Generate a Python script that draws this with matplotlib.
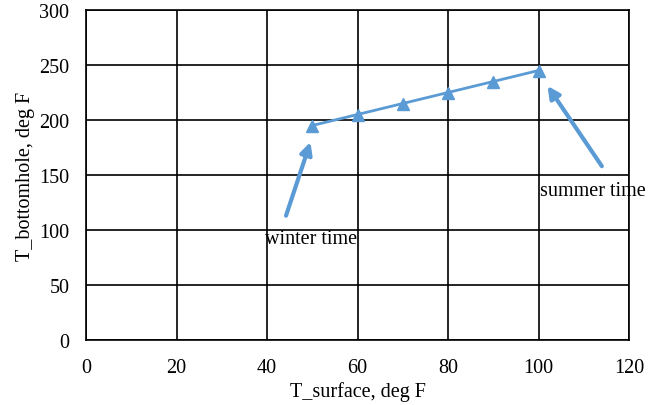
import matplotlib
matplotlib.use("Agg")
import matplotlib.pyplot as plt

# data
t_surface = [50, 60, 70, 80, 90, 100]
t_bottomhole = [195, 205, 215, 225, 235, 245]

x_ticks = [0, 20, 40, 60, 80, 100, 120]
y_ticks = [0, 50, 100, 150, 200, 250, 300]

# annotation arrows: tail -> head, in data units
winter_tail = (44.2, 113)
winter_head = (49.6, 180)
summer_tail = (114, 158)
summer_head = (102, 231)

BLUE = "#5B9BD5"
FS = 14.5

plt.rcParams["font.family"] = ["Liberation Serif", "DejaVu Serif"]

fig = plt.figure(figsize=(6.63, 4.06), dpi=100)
ax = fig.add_axes([86 / 663, 1 - 341 / 406, 543 / 663, 330 / 406])

ax.plot(t_surface, t_bottomhole, color=BLUE, linewidth=2,
        marker="^", markersize=9, zorder=3)

for tail, head in [(winter_tail, winter_head), (summer_tail, summer_head)]:
    ax.annotate("", xy=head, xytext=tail,
                arrowprops=dict(arrowstyle="-|>,head_length=0.7,head_width=0.35",
                                color=BLUE, lw=3, shrinkA=0, shrinkB=0),
                zorder=4)

ax.text(39.5, 92, "winter time", fontsize=FS, va="center", ha="left")
ax.text(100.3, 136, "summer time", fontsize=FS, va="center", ha="left")

ax.set_xlim(0, 120)
ax.set_ylim(0, 300)
ax.set_xticks(x_ticks)
ax.set_yticks(y_ticks)
ax.tick_params(length=0, labelsize=FS)
ax.tick_params(axis="x", pad=13)
ax.tick_params(axis="y", pad=12)
ax.grid(True, color="black", linewidth=1.2)
ax.set_axisbelow(True)
for s in ax.spines.values():
    s.set_color("black")
    s.set_linewidth(1.2)

ax.set_xlabel("T_surface, deg F", fontsize=FS, labelpad=3)
ax.set_ylabel("T_bottomhole, deg F", fontsize=FS, labelpad=3)

fig.savefig("out.png", dpi=100)
